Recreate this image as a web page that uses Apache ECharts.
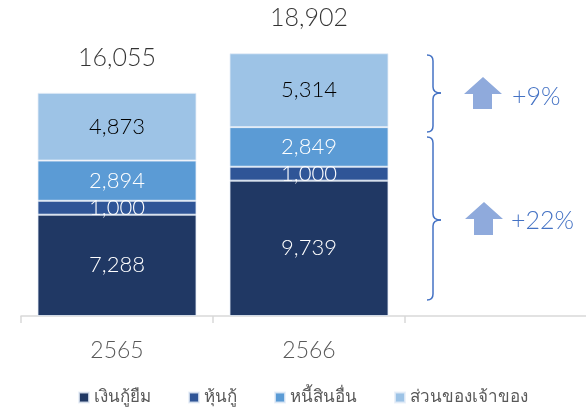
<!DOCTYPE html>
<html>
<head>
<meta charset="utf-8">
<script src="https://cdn.jsdelivr.net/npm/echarts@6/dist/echarts.min.js"></script>
<style>
  html, body { margin: 0; padding: 0; background: #fff; }
  #chart { width: 586px; height: 408px; }
</style>
</head>
<body>
<div id="chart"></div>
<script>
// chart values
var categories = ["2565", "2566", ""];
var loans = [7288, 9739];
var debentures = [1000, 1000];
var otherLiabilities = [2894, 2849];
var equity = [4873, 5314];
var seriesNames = ["เงินกู้ยืม", "หุ้นกู้", "หนี้สินอื่น", "ส่วนของเจ้าของ"];
var colors = ["#203864", "#2F5597", "#5B9BD5", "#9DC3E6"];
var growthLabels = ["+9%", "+22%"];

var totals = loans.map(function (v, i) {
    return v + debentures[i] + otherLiabilities[i] + equity[i];
});

function fmt(v) {
    return v.toLocaleString("en-US");
}

var textFont = "Lato";
var textWeight = 300;
var braceColor = "#4472C4";
var arrowColor = "#8FAADC";

// one stacked bar series per component
function barSeries(name, data, color, labelColor) {
    return {
        name: name,
        type: "bar",
        stack: "total",
        barWidth: 159,
        data: data,
        itemStyle: { color: color, borderColor: "rgba(230,238,247,0.8)", borderWidth: 1 },
        label: {
            show: true,
            position: "inside",
            color: labelColor,
            fontFamily: textFont,
            fontWeight: textWeight,
            fontSize: 22,
            formatter: function (p) { return fmt(p.value); }
        }
    };
}

// curly brace built from lines and quadratic curves (decoration only)
function brace(x, top, mid, bottom) {
    var st = { stroke: braceColor, lineWidth: 1.5, fill: null };
    var r = 6;
    return [
        { type: "bezierCurve", shape: { x1: x - 6, y1: top, x2: x, y2: top + r, cpx1: x, cpy1: top }, style: st },
        { type: "line", shape: { x1: x, y1: top + r, x2: x, y2: mid - r }, style: st },
        { type: "bezierCurve", shape: { x1: x, y1: mid - r, x2: x + 8, y2: mid, cpx1: x, cpy1: mid }, style: st },
        { type: "bezierCurve", shape: { x1: x + 8, y1: mid, x2: x, y2: mid + r, cpx1: x, cpy1: mid }, style: st },
        { type: "line", shape: { x1: x, y1: mid + r, x2: x, y2: bottom - r }, style: st },
        { type: "bezierCurve", shape: { x1: x, y1: bottom - r, x2: x - 6, y2: bottom, cpx1: x, cpy1: bottom }, style: st }
    ];
}

var graphics = brace(433, 55, 93, 132).concat(brace(433, 137, 220, 300)).concat([
    {
        type: "polygon",
        shape: { points: [[483, 77], [502, 94], [492, 94], [492, 109], [473, 109], [473, 94], [464, 94]] },
        style: { fill: arrowColor }
    },
    {
        type: "polygon",
        shape: { points: [[484, 202], [503, 219], [493, 219], [493, 235], [474, 235], [474, 219], [465, 219]] },
        style: { fill: arrowColor }
    },
    {
        type: "text", left: 512, top: 84,
        style: { text: growthLabels[0], fill: braceColor, fontSize: 25, fontFamily: textFont, fontWeight: textWeight }
    },
    {
        type: "text", left: 511, top: 208,
        style: { text: growthLabels[1], fill: braceColor, fontSize: 25, fontFamily: textFont, fontWeight: textWeight }
    }
]);

var chart = echarts.init(document.getElementById("chart"));
chart.setOption({
    animation: false,
    grid: { left: 21, right: -11, top: 38, bottom: 92, outerBoundsMode: "none" },
    legend: {
        data: seriesNames,
        left: 73,
        top: 384,
        itemWidth: 10,
        itemHeight: 10,
        itemGap: 37,
        icon: "rect",
        textStyle: { color: "#595959", fontSize: 17, fontFamily: "Noto Sans, sans-serif" }
    },
    xAxis: {
        type: "category",
        data: categories,
        axisLine: { lineStyle: { color: "#d9d9d9", width: 1.5 } },
        axisTick: { show: true, length: 7, lineStyle: { color: "#d9d9d9", width: 1.5 } },
        axisLabel: {
            color: "#595959",
            fontSize: 23,
            fontWeight: textWeight,
            fontFamily: textFont,
            margin: 23
        }
    },
    yAxis: { type: "value", min: 0, max: 20000, show: false, splitLine: { show: false } },
    series: [
        barSeries(seriesNames[0], loans, colors[0], "#fff"),
        barSeries(seriesNames[1], debentures, colors[1], "#fff"),
        barSeries(seriesNames[2], otherLiabilities, colors[2], "#fff"),
        barSeries(seriesNames[3], equity, colors[3], "#000"),
        {
            // totals above each stack
            name: "total",
            type: "scatter",
            data: totals,
            symbolSize: 1,
            itemStyle: { color: "rgba(0,0,0,0)" },
            label: {
                show: true,
                position: "inside",
                offset: [0, -35],
                color: "#000",
                fontFamily: textFont,
                fontWeight: textWeight,
                fontSize: 25,
                formatter: function (p) { return fmt(p.value); }
            }
        }
    ],
    graphic: graphics
});
</script>
</body>
</html>
